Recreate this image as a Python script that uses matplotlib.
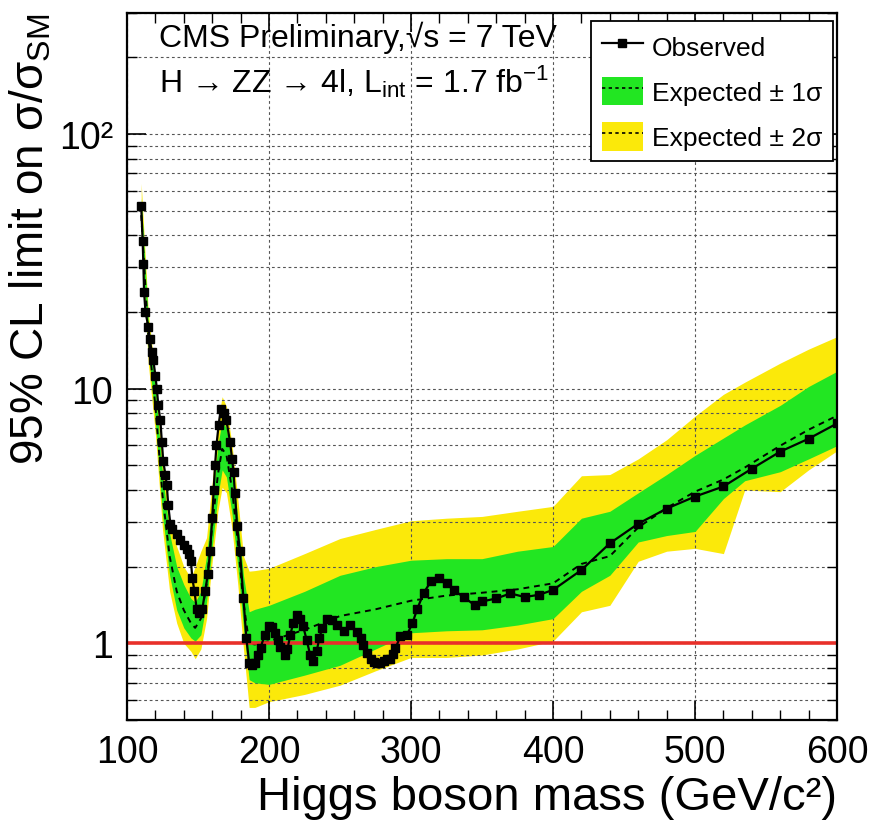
import matplotlib
matplotlib.use("Agg")
import matplotlib.pyplot as plt
from matplotlib.lines import Line2D
from matplotlib.patches import Patch
from matplotlib.legend_handler import HandlerTuple
from matplotlib.ticker import MultipleLocator, LogLocator, NullFormatter

plt.rcParams.update({
    "font.family": ["Liberation Sans", "DejaVu Sans"],
    "mathtext.fontset": "custom",
    "mathtext.rm": "Liberation Sans",
    "mathtext.it": "Liberation Sans:italic",
    "mathtext.bf": "Liberation Sans:bold",
})

# observed limit
mass_obs = [110, 111, 111.5, 112, 113, 115, 116, 117.5, 118.5, 120, 121, 122, 123.5, 124.5,
            125.5, 127, 128, 129, 130.5, 132, 135, 137.5, 140, 142, 143.5, 145, 146, 147.5,
            149, 151, 153, 155, 157, 158.5, 160, 161, 162, 163, 164.5, 166, 168, 170, 172.5,
            174, 175, 176, 177.5, 179.5, 182, 184, 186, 188, 190, 192, 194, 197, 200, 202,
            204, 206, 208, 211, 213, 215, 217, 219.5, 222, 224, 226.5, 229, 231, 233.5,
            235.5, 237.5, 240.5, 244, 248, 252.5, 257, 262, 264.5, 266.5, 269, 271.5, 274,
            276, 278.5, 281, 283, 285.5, 287, 289, 292.5, 297, 301, 304.5, 309, 314, 320,
            325, 330, 337, 345, 350, 360, 370, 380, 390, 400, 420, 440, 460, 480, 500, 520,
            540, 560, 580, 600]
limit_obs = [52, 38, 31, 24, 20, 17.5, 15.6, 13.9, 13.0, 11.2, 10.0, 8.6, 7.5, 6.2,
             5.2, 4.6, 4.2, 3.5, 2.95, 2.8, 2.68, 2.55, 2.43, 2.35, 2.25, 2.1, 1.8, 1.6,
             1.37, 1.31, 1.36, 1.6, 1.88, 2.3, 3.1, 4.0, 5.0, 6.0, 7.2, 8.3, 8.0, 7.5, 6.2,
             5.3, 4.7, 3.9, 2.9, 2.3, 1.5, 1.05, 0.84, 0.82, 0.84, 0.9, 0.96, 1.08, 1.17, 1.16,
             1.1, 1.03, 0.97, 0.9, 0.95, 1.08, 1.2, 1.29, 1.25, 1.17, 1.03, 0.9, 0.85, 0.93,
             1.05, 1.15, 1.25, 1.24, 1.18, 1.12, 1.18, 1.11, 1.05, 0.985, 0.92, 0.87, 0.845,
             0.835, 0.84, 0.85, 0.865, 0.87, 0.91, 0.955, 1.065, 1.075, 1.2, 1.37, 1.58, 1.75, 1.80,
             1.72, 1.62, 1.52, 1.41, 1.46, 1.50, 1.57, 1.52, 1.55, 1.62, 1.94, 2.47, 2.95, 3.38, 3.77, 4.13,
             4.85, 5.66, 6.36, 7.3]

# expected limit and bands
mass_exp = [110, 115, 120, 125, 130, 135, 140, 145, 148, 152, 156, 160, 164, 167, 170, 174,
            178, 182, 186, 190, 200, 225, 250, 275, 300, 325, 350, 375, 400, 420, 440, 460,
            480, 500, 520, 535, 560, 580, 600]
exp_median = [48, 16, 8.5, 3.8, 2.2, 1.6, 1.35, 1.2, 1.15, 1.25, 1.7, 2.9, 4.6, 5.8, 5.5, 4.0,
              2.5, 1.45, 1.0, 0.99, 1.02, 1.13, 1.28, 1.36, 1.47, 1.54, 1.58, 1.63, 1.72, 2.05, 2.2, 2.85,
              3.4, 3.94, 4.4, 4.9, 5.97, 6.9, 7.83]
exp_1s_lo = [42, 14, 7.4, 3.2, 1.85, 1.35, 1.15, 1.05, 1.02, 1.08, 1.45, 2.4, 3.8, 4.8, 4.5, 3.2,
             2.0, 1.15, 0.72, 0.7, 0.69, 0.75, 0.82, 0.95, 1.1, 1.12, 1.13, 1.18, 1.25, 1.6, 1.85, 2.5,
             2.65, 2.75, 3.7, 4.35, 4.72, 5.3, 5.97]
exp_1s_hi = [56, 18.5, 10, 4.6, 2.7, 2.0, 1.7, 1.5, 1.45, 1.6, 2.2, 3.6, 6.0, 7.5, 7.0, 5.0,
             3.1, 1.85, 1.33, 1.36, 1.41, 1.6, 1.85, 2.0, 2.12, 2.15, 2.15, 2.3, 2.4, 3.1, 3.3, 3.9,
             4.6, 5.47, 6.4, 7.2, 8.6, 10.2, 11.7]
exp_2s_lo = [38, 12.5, 6.6, 2.8, 1.6, 1.2, 1.0, 0.93, 0.87, 0.95, 1.25, 2.1, 3.3, 4.1, 3.9, 2.8,
             1.7, 0.95, 0.56, 0.56, 0.59, 0.63, 0.685, 0.78, 0.88, 0.88, 0.9, 0.95, 1.02, 1.33, 1.41, 2.1,
             2.3, 2.36, 2.25, 4.0, 3.94, 4.8, 5.7]
exp_2s_hi = [64, 20, 11, 5.2, 3.1, 2.4, 2.0, 1.8, 2.0, 2.3, 2.6, 4.3, 7.5, 9.3, 8.5, 6.0,
             3.7, 2.2, 1.92, 1.93, 1.97, 2.25, 2.58, 2.8, 3.03, 3.1, 3.15, 3.3, 3.45, 4.55, 4.6, 5.3,
             6.3, 7.8, 9.5, 10.6, 12.6, 14.3, 16]

YELLOW = "#fbe90a"
GREEN = "#22e622"
GRID = "#555555"

fig = plt.figure(figsize=(8.73, 8.29), dpi=100)
ax = fig.add_axes([0.1455, 0.1303, 0.8133, 0.8534])

ax.fill_between(mass_exp, exp_2s_lo, exp_2s_hi, color=YELLOW, linewidth=0, zorder=2)
ax.fill_between(mass_exp, exp_1s_lo, exp_1s_hi, color=GREEN, linewidth=0, zorder=3)
ax.plot(mass_exp, exp_median, color="black", linestyle=(0, (3, 2.5)), linewidth=1.4, zorder=4)
ax.axhline(1.0, color="#e8302a", linewidth=2.6, zorder=5)
ax.plot(mass_obs, limit_obs, color="black", linewidth=1.6, marker="s", markersize=5.5,
        zorder=6)

ax.set_yscale("log")
ax.set_xlim(100, 600)
ax.set_ylim(0.5, 300)

ax.xaxis.set_major_locator(MultipleLocator(100))
ax.xaxis.set_minor_locator(MultipleLocator(20))
ax.yaxis.set_major_locator(LogLocator(base=10))
ax.yaxis.set_minor_locator(LogLocator(base=10, subs=range(2, 10)))
ax.yaxis.set_minor_formatter(NullFormatter())
ax.set_yticks([1, 10, 100])
ax.set_yticklabels(["1", "10", "10²"])

ax.grid(True, which="major", axis="x", color=GRID, linestyle=(0, (2.5, 2.5)), linewidth=0.8)
ax.grid(True, which="both", axis="y", color=GRID, linestyle=(0, (2.5, 2.5)), linewidth=0.8)
ax.set_axisbelow(False)

ax.tick_params(which="both", direction="in", top=True, right=True, labelsize=27, pad=10)
ax.tick_params(which="major", length=14, width=1.2)
ax.tick_params(which="minor", length=7, width=1.0)
for s in ax.spines.values():
    s.set_linewidth(1.6)
    s.set_zorder(10)

ax.set_xlabel("Higgs boson mass (GeV/c²)", fontsize=34, loc="right", labelpad=4)
ax.set_ylabel("95% CL limit on σ/σ$_{\\mathrm{SM}}$", fontsize=33, loc="top", labelpad=4)

ax.text(0.045, 0.952, "CMS Preliminary,√s = 7 TeV", transform=ax.transAxes,
        fontsize=23, va="baseline", ha="left")
ax.text(0.045, 0.888, "H → ZZ → 4l, L$_{\\mathrm{int}}$ = 1.7 fb$^{\\mathrm{-1}}$",
        transform=ax.transAxes, fontsize=23, va="baseline", ha="left")

h_obs = Line2D([], [], color="black", linewidth=1.6, marker="s", markersize=5.5)
h_1s = (Patch(facecolor=GREEN, edgecolor="none"),
        Line2D([], [], color="black", linestyle=(0, (2, 2)), linewidth=1.2))
h_2s = (Patch(facecolor=YELLOW, edgecolor="none"),
        Line2D([], [], color="black", linestyle=(0, (2, 2)), linewidth=1.2))
leg = ax.legend([h_obs, h_1s, h_2s], ["Observed", "Expected ± 1σ", "Expected ± 2σ"],
                handler_map={tuple: HandlerTuple(ndivide=1, pad=0)},
                loc="upper right", bbox_to_anchor=(0.994, 0.988), borderaxespad=0,
                fontsize=19, fancybox=False, framealpha=1, edgecolor="black",
                handlelength=1.55, handleheight=1.3, labelspacing=0.62,
                handletextpad=0.35, borderpad=0.4)
leg.get_frame().set_linewidth(1.3)
leg.set_zorder(20)

fig.savefig("out.png", dpi=100)
